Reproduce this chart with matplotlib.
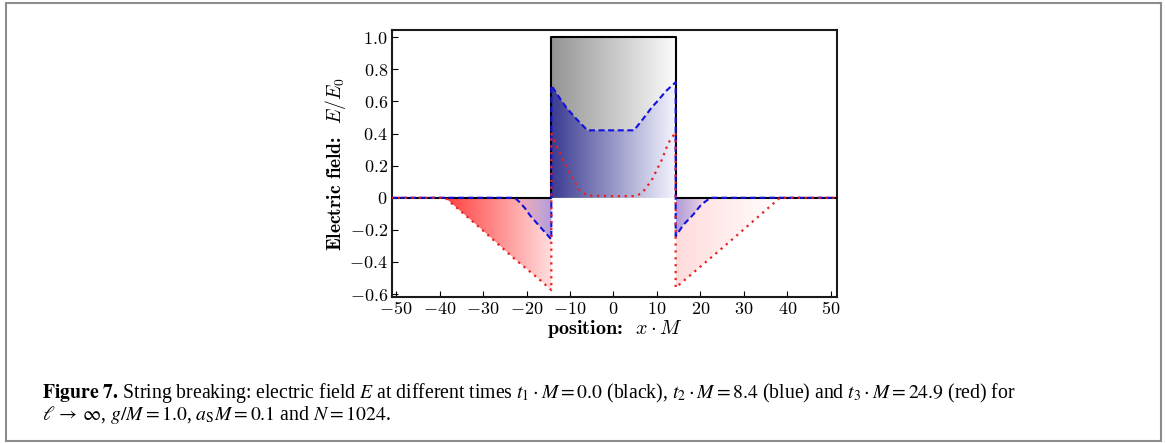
import matplotlib
matplotlib.use("Agg")
import matplotlib.pyplot as plt
import numpy as np
from matplotlib.patches import Rectangle

plt.rcParams["mathtext.fontset"] = "cm"
plt.rcParams["font.family"] = "serif"
plt.rcParams["font.serif"] = ["Liberation Serif", "DejaVu Serif"]

# %% values (x*M, E/E0)
black_x = [-51.2, -14.3, -14.3, 14.3, 14.3, 51.2]
black_E = [0.0, 0.0, 1.0, 1.0, 0.0, 0.0]

blue_x = [-51.2, -22.7, -21.5, -20.4, -19.2, -17.0, -15.1, -14.3,
          -14.3, -12.6, -10.9, -8.5, -6.0, 4.7, 6.6, 8.8, 10.4, 11.9, 14.3,
          14.3, 16.1, 18.3, 20.2, 21.8, 22.6, 51.2]
blue_E = [0.0, 0.0, -0.03, -0.064, -0.11, -0.178, -0.235, -0.26,
          0.70, 0.63, 0.563, 0.49, 0.42, 0.42, 0.484, 0.563, 0.61, 0.66, 0.72,
          -0.24, -0.168, -0.106, -0.043, -0.01, 0.0, 0.0]

red_x = [-51.2, -38.7, -30.6, -23.0, -17.0, -14.3,
         -14.3, -12.4, -10.1, -7.9, -6.0, 0.0, 5.1, 6.6, 8.8, 11.1, 12.6, 14.3,
         14.3, 25.6, 38.3, 51.2]
red_E = [0.0, 0.0, -0.19, -0.375, -0.51, -0.575,
         0.40, 0.278, 0.153, 0.05, 0.014, 0.01, 0.01, 0.03, 0.11, 0.236, 0.34, 0.41,
         -0.56, -0.30, 0.0, 0.0]

xticks = [-50, -40, -30, -20, -10, 0, 10, 20, 30, 40, 50]
yticks = [-0.6, -0.4, -0.2, 0.0, 0.2, 0.4, 0.6, 0.8, 1.0]
ytick_labels = ["-0.6", "-0.4", "-0.2", "0", "0.2", "0.4", "0.6", "0.8", "1.0"]


def pieces(x, E):
    # split a curve at its jumps (repeated x)
    x = np.asarray(x); E = np.asarray(E)
    cut = np.where(np.diff(x) == 0)[0] + 1
    return list(zip(np.split(x, cut), np.split(E, cut)))


def grad_fill(ax, px, pE, x0, x1, c0, c1, a0=1.0, a1=1.0, z=1):
    xs = np.concatenate([px, [px[-1], px[0]]])
    ys = np.concatenate([pE, [0.0, 0.0]])
    patch, = ax.fill(xs, ys, facecolor="none", edgecolor="none")
    t = np.linspace(0, 1, 256)
    img = np.zeros((1, 256, 4))
    for k in range(3):
        img[0, :, k] = c0[k] + (c1[k] - c0[k]) * t
    img[0, :, 3] = a0 + (a1 - a0) * t
    im = ax.imshow(img, extent=(x0, x1, min(ys.min(), 0), max(ys.max(), 0)),
                   aspect="auto", origin="lower", interpolation="bilinear", zorder=z)
    im.set_clip_path(patch)


fig = plt.figure(figsize=(11.65, 4.43), dpi=100)
ax = fig.add_axes([0.3365, 0.3289, 0.3817, 0.6034])

# fills
bk = pieces(black_x, black_E)
bl = pieces(blue_x, blue_E)
rd = pieces(red_x, red_E)
grad_fill(ax, bk[1][0], bk[1][1], -14.3, 14.3, (0.58, 0.58, 0.58), (0.985, 0.985, 0.985), z=1)
grad_fill(ax, bl[1][0], bl[1][1], -14.3, 14.3, (0.23, 0.23, 0.57), (0.96, 0.96, 1.0), z=1.1)
grad_fill(ax, rd[0][0], rd[0][1], -38.7, -14.3, (1.0, 0.25, 0.25), (1.0, 0.87, 0.87), z=1.1)
grad_fill(ax, rd[2][0], rd[2][1], 14.3, 38.3, (1.0, 0.86, 0.86), (1.0, 1.0, 1.0), z=1.1)
grad_fill(ax, bl[0][0], bl[0][1], -22.7, -14.3, (0.3, 0.3, 0.85), (0.3, 0.3, 0.85), 0.0, 0.45, z=1.2)
grad_fill(ax, bl[2][0], bl[2][1], 14.3, 22.6, (0.3, 0.3, 0.85), (0.3, 0.3, 0.85), 0.45, 0.0, z=1.2)

# lines
ax.plot(black_x, black_E, color="k", lw=1.5, zorder=3)
ax.plot(blue_x, blue_E, color="#1010e0", lw=1.5, ls=(0, (2.9, 1.7)), zorder=4)
ax.plot(red_x, red_E, color="#e82020", lw=1.6, ls=(0, (1, 2.1)), zorder=5)

ax.set_xlim(-50.95, 51.35)
ax.set_ylim(-0.62, 1.045)
ax.set_xticks(xticks)
ax.set_xticklabels(["$%d$" % v for v in xticks])
ax.set_yticks(yticks)
ax.set_yticklabels(["$%s$" % s for s in ytick_labels])
ax.tick_params(direction="in", length=4, width=0.8, labelsize=13, pad=3,
               top=False, right=False)
for s in ax.spines.values():
    s.set_linewidth(1.5)
    s.set_color("#1a1a1a")

# bold text part in computer modern bold, math part in cm
ax.set_xlabel(r"position:  $x\cdot M$", fontsize=14.5, labelpad=0,
              fontfamily="cmb10", math_fontfamily="cm")
ax.set_ylabel(r"Electric field:  $E/E_0$", fontsize=14, labelpad=1,
              fontfamily="cmb10", math_fontfamily="cm")

# caption + frame
fig.add_artist(Rectangle((6 / 1165, 2 / 443), 1155 / 1165, 438 / 443, transform=fig.transFigure,
                         fill=False, edgecolor="#8c8c8c", lw=1.5))
cap1 = (r"$\mathbf{Figure\ 7.}\,$String breaking: electric field $E$ at different times "
        r"$t_1\cdot M = 0.0$ (black), $t_2\cdot M = 8.4$ (blue) and $t_3\cdot M = 24.9$ (red) for")
cap2 = r"$\ell\,\rightarrow\,\infty$, $g/M = 1.0$, $a_{\rm S}M = 0.1$ and $N = 1024$."
fig.text(42 / 1165, 1 - 398 / 443, cap1, fontsize=14.2, va="baseline", math_fontfamily="stix")
fig.text(42 / 1165, 1 - 420 / 443, cap2, fontsize=14.2, va="baseline", math_fontfamily="stix")

fig.savefig("out.png", dpi=100)
